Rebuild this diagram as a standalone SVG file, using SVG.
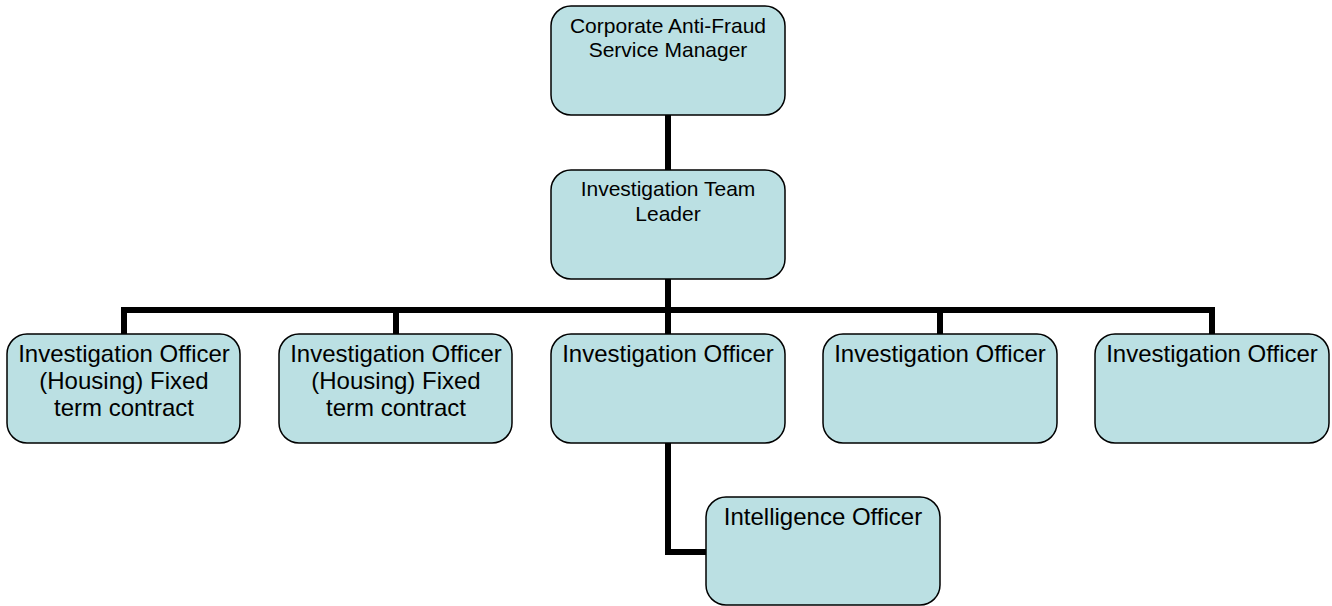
<svg xmlns="http://www.w3.org/2000/svg" width="1332" height="606" viewBox="0 0 1332 606">
<style>
.box{fill:#BBE0E3;stroke:#000;stroke-width:1.5}
.t{font-family:"Liberation Sans",Arial,sans-serif;fill:#000;text-anchor:middle}
.s{font-size:21px}
.l{font-size:24px}
.c{fill:none;stroke:#000;stroke-width:6;stroke-linejoin:miter}
</style>
<rect width="1332" height="606" fill="#fff"/>
<g id="connectors">
<path class="c" d="M668 115V170"/>
<path class="c" d="M668 279V334"/>
<path class="c" d="M124 334V310H1212V334"/>
<path class="c" d="M396 310V334"/>
<path class="c" d="M940 310V334"/>
<path class="c" d="M668 443V552H706"/>
</g>
<g id="n1">
<rect class="box" x="551" y="6" width="234" height="109" rx="20"/>
<text class="t s" x="668" y="33">Corporate Anti-Fraud</text>
<text class="t s" x="668" y="57">Service Manager</text>
</g>
<g id="n2">
<rect class="box" x="551" y="170" width="234" height="109" rx="20"/>
<text class="t s" x="668" y="196">Investigation Team</text>
<text class="t s" x="668" y="221">Leader</text>
</g>
<g id="n3">
<rect class="box" x="7" y="334" width="233" height="109" rx="20"/>
<text class="t l" x="124" y="362">Investigation Officer</text>
<text class="t l" x="124" y="389">(Housing) Fixed</text>
<text class="t l" x="124" y="416">term contract</text>
</g>
<g id="n4">
<rect class="box" x="279" y="334" width="233" height="109" rx="20"/>
<text class="t l" x="396" y="362">Investigation Officer</text>
<text class="t l" x="396" y="389">(Housing) Fixed</text>
<text class="t l" x="396" y="416">term contract</text>
</g>
<g id="n5">
<rect class="box" x="551" y="334" width="234" height="109" rx="20"/>
<text class="t l" x="668" y="362">Investigation Officer</text>
</g>
<g id="n6">
<rect class="box" x="823" y="334" width="234" height="109" rx="20"/>
<text class="t l" x="940" y="362">Investigation Officer</text>
</g>
<g id="n7">
<rect class="box" x="1095" y="334" width="234" height="109" rx="20"/>
<text class="t l" x="1212" y="362">Investigation Officer</text>
</g>
<g id="n8">
<rect class="box" x="706" y="497" width="234" height="108" rx="20"/>
<text class="t l" x="823" y="525">Intelligence Officer</text>
</g>
</svg>
